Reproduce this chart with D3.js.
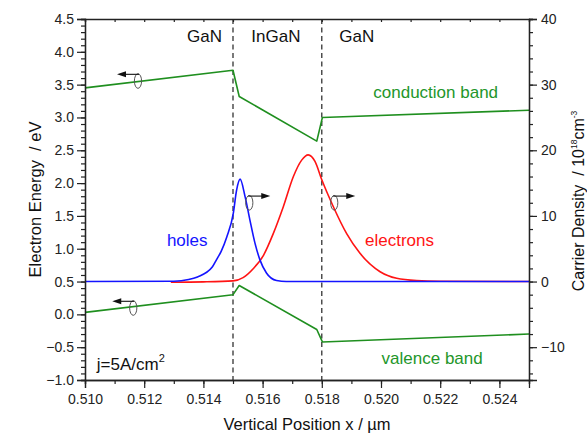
<!DOCTYPE html>
<html>
<head>
<meta charset="utf-8">
<script src="https://cdn.jsdelivr.net/npm/d3@7"></script>
<style>
  html, body { margin: 0; padding: 0; background: #fff; }
  svg { display: block; font-family: "Liberation Sans", Arial, sans-serif; }
  text { white-space: pre; }
</style>
</head>
<body>
<svg id="chart" width="587" height="433"></svg>
<script>
// ---------------- data ----------------
const xTicks = [0.510, 0.512, 0.514, 0.516, 0.518, 0.520, 0.522, 0.524];
const leftTicks = [-1.0, -0.5, 0.0, 0.5, 1.0, 1.5, 2.0, 2.5, 3.0, 3.5, 4.0, 4.5];
const rightTicks = [-10, 0, 10, 20, 30, 40];

// band edges (electron energy, eV)
const bandX = [0.5100, 0.5150, 0.51521, 0.51783, 0.51802, 0.5250];
const conductionE = [3.45, 3.72, 3.32, 2.64, 3.00, 3.11];
const valenceE = [0.03, 0.30, 0.44, -0.23, -0.42, -0.30];

// carrier densities (10^18 cm^-3)
const holesX = [0.5100, 0.5130, 0.5135, 0.5138, 0.5143, 0.51444, 0.5146, 0.51479, 0.51501, 0.51512, 0.51524, 0.51541, 0.51557, 0.51574, 0.51591, 0.51613, 0.51647, 0.5168, 0.5250];
const holesN = [0, 0.05, 0.3, 0.7, 2.2, 3.3, 4.6, 6.8, 10.4, 13.9, 15.6, 12.9, 9.4, 5.9, 3.3, 1.3, 0.15, 0, 0];
const electronsX = [0.5129, 0.5140, 0.5150, 0.51534, 0.51569, 0.51603, 0.51636, 0.5167, 0.51704, 0.51732, 0.51754, 0.51777, 0.5180, 0.51839, 0.51884, 0.51929, 0.51997, 0.52053, 0.5212, 0.5220, 0.5250];
const electronsN = [-0.1, -0.05, 0.1, 0.6, 2.0, 4.0, 7.3, 11.4, 16.0, 18.5, 19.3, 18.3, 15.5, 11.4, 7.3, 4.3, 1.5, 0.5, 0.15, 0.05, 0];

// interfaces
const interfaces = [0.515, 0.518];
const regionLabels = ["GaN", "InGaN", "GaN"];
const regionX = [0.51404, 0.51645, 0.51918];

// ---------------- layout ----------------
const svg = d3.select("#chart");
const m = { left: 85, right: 529, top: 19, bottom: 380 };
const x = d3.scaleLinear().domain([0.510, 0.525]).range([m.left, m.right]);
const yL = d3.scaleLinear().domain([-1, 4.5]).range([m.bottom, m.top]);
const yR = d3.scaleLinear().domain([-15, 40]).range([m.bottom, m.top]);

const green = "#1f8f1f", greenText = "#23962a", blue = "#1414ff", red = "#ff1414";
const axisColor = "#222";

// dashed interface lines
svg.append("g").selectAll("line").data(interfaces).join("line")
  .attr("x1", d => x(d)).attr("x2", d => x(d))
  .attr("y1", m.top).attr("y2", m.bottom)
  .attr("stroke", "#222").attr("stroke-width", 1.2)
  .attr("stroke-dasharray", "5,3.5");

// band lines
const bandLine = d3.line().x(d => x(d[0])).y(d => yL(d[1]));
[conductionE, valenceE].forEach(arr => {
  svg.append("path").datum(bandX.map((v, i) => [v, arr[i]]))
    .attr("d", bandLine).attr("fill", "none")
    .attr("stroke", green).attr("stroke-width", 1.6).attr("stroke-linejoin", "round");
});

// carrier densities
const densLine = d3.line().x(d => x(d[0])).y(d => yR(d[1])).curve(d3.curveMonotoneX);
svg.append("path").datum(electronsX.map((v, i) => [v, electronsN[i]]))
  .attr("d", densLine).attr("fill", "none").attr("stroke", red).attr("stroke-width", 1.6);
svg.append("path").datum(holesX.map((v, i) => [v, holesN[i]]))
  .attr("d", densLine).attr("fill", "none").attr("stroke", blue).attr("stroke-width", 1.6);

// ---------------- axes ----------------
function styleAxis(g) {
  g.select(".domain").attr("stroke", axisColor).attr("stroke-width", 1.3);
  g.selectAll(".tick line").attr("stroke", axisColor).attr("stroke-width", 1.2);
  g.selectAll(".tick text").attr("fill", "#222").attr("font-size", 14)
    .attr("font-family", "'Liberation Sans', Arial, sans-serif");
}
const minorX = d3.range(0, 16).map(i => 0.510 + i * 0.001);
const minorL = d3.range(0, 56).map(i => -1 + i * 0.1);
const minorR = d3.range(0, 28).map(i => -14 + i * 2);

// bottom
svg.append("g").attr("transform", `translate(0,${m.bottom})`)
  .call(d3.axisBottom(x).tickValues(minorX).tickSize(4).tickFormat("")).call(styleAxis);
svg.append("g").attr("transform", `translate(0,${m.bottom})`)
  .call(d3.axisBottom(x).tickValues(xTicks).tickSize(8).tickPadding(6).tickFormat(d3.format(".3f"))).call(styleAxis);
// top
svg.append("g").attr("transform", `translate(0,${m.top})`)
  .call(d3.axisBottom(x).tickValues(minorX).tickSize(3).tickFormat("")).call(styleAxis);
// left
svg.append("g").attr("transform", `translate(${m.left},0)`)
  .call(d3.axisLeft(yL).tickValues(minorL).tickSize(4).tickFormat("")).call(styleAxis);
svg.append("g").attr("transform", `translate(${m.left},0)`)
  .call(d3.axisLeft(yL).tickValues(leftTicks).tickSize(8).tickPadding(3).tickFormat(d3.format(".1f"))).call(styleAxis);
// right
svg.append("g").attr("transform", `translate(${m.right},0)`)
  .call(d3.axisRight(yR).tickValues(minorR).tickSize(4).tickFormat("")).call(styleAxis);
svg.append("g").attr("transform", `translate(${m.right},0)`)
  .call(d3.axisRight(yR).tickValues(rightTicks).tickSize(8).tickPadding(4).tickFormat(d3.format("d"))).call(styleAxis);

// axis titles
svg.append("text").attr("x", (m.left + m.right) / 2).attr("y", 430)
  .attr("text-anchor", "middle").attr("font-size", 16.5).attr("fill", "#111")
  .text("Vertical Position x / µm");
svg.append("text").attr("transform", `translate(40.5,${(m.top + m.bottom) / 2}) rotate(-90)`)
  .attr("text-anchor", "middle").attr("font-size", 16.5).attr("fill", "#111")
  .text("Electron Energy  / eV");
const rt = svg.append("text").attr("transform", `translate(584,201) rotate(-90)`)
  .attr("text-anchor", "middle").attr("font-size", 16).attr("fill", "#111");
rt.append("tspan").text("Carrier Density  / 10");
rt.append("tspan").attr("font-size", 8.5).attr("dy", -7).text("18");
rt.append("tspan").attr("dy", 7).text("cm");
rt.append("tspan").attr("font-size", 8.5).attr("dy", -7).text("-3");

// region labels
svg.append("g").selectAll("text").data(regionLabels).join("text")
  .attr("x", (d, i) => x(regionX[i])).attr("y", yL(4.155))
  .attr("text-anchor", "middle").attr("font-size", 17).attr("fill", "#111")
  .text(d => d);

// curve labels
svg.append("text").attr("x", x(0.51974)).attr("y", yL(3.29))
  .attr("font-size", 17).attr("fill", greenText).text("conduction band");
svg.append("text").attr("x", x(0.52002)).attr("y", yL(-0.756))
  .attr("font-size", 17).attr("fill", greenText).text("valence band");
svg.append("text").attr("x", x(0.51414)).attr("y", yR(5.4))
  .attr("text-anchor", "end").attr("font-size", 17).attr("fill", blue).text("holes");
svg.append("text").attr("x", x(0.51946)).attr("y", yR(5.45))
  .attr("font-size", 17).attr("fill", red).text("electrons");
const jt = svg.append("text").attr("x", x(0.51040)).attr("y", yL(-0.855))
  .attr("font-size", 17).attr("fill", "#111");
jt.append("tspan").text("j=5A/cm");
jt.append("tspan").attr("font-size", 11).attr("dy", -8).text("2");

// axis-assignment markers (ellipse + arrow)
const markers = [
  { x: 0.51179, v: 3.555, scale: yL, dir: -1 },
  { x: 0.51163, v: 0.097, scale: yL, dir: -1 },
  { x: 0.51555, v: 12.0, scale: yR, dir: 1 },
  { x: 0.51842, v: 12.0, scale: yR, dir: 1 }
];
markers.forEach(mk => {
  const cx = x(mk.x), cy = mk.scale(mk.v);
  const rx = 3.6, ry = 7.3;
  svg.append("ellipse").attr("cx", cx).attr("cy", cy).attr("rx", rx).attr("ry", ry)
    .attr("fill", "none").attr("stroke", "#555").attr("stroke-width", 1);
  const ay = cy - ry + 0.6;
  const x0 = cx - mk.dir * 1, tip = cx + mk.dir * 21;
  svg.append("line").attr("x1", x0).attr("x2", tip - mk.dir * 6).attr("y1", ay).attr("y2", ay)
    .attr("stroke", "#111").attr("stroke-width", 1.1);
  svg.append("path")
    .attr("d", `M${tip},${ay} L${tip - mk.dir * 9},${ay - 3} L${tip - mk.dir * 9},${ay + 3} Z`)
    .attr("fill", "#111");
});
</script>
</body>
</html>
